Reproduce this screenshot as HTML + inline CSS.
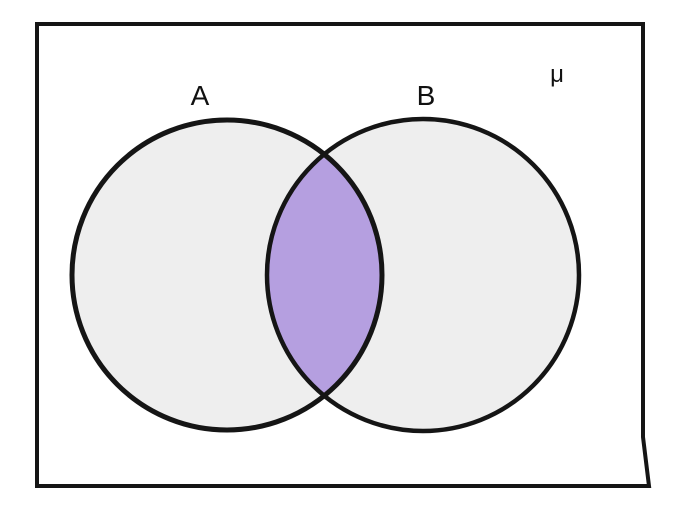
<!DOCTYPE html>
<html><head><style>
html,body{margin:0;padding:0;background:#fff;width:681px;height:520px;overflow:hidden}
</style></head><body>
<svg width="681" height="520" viewBox="0 0 681 520" xmlns="http://www.w3.org/2000/svg">
<defs>
<clipPath id="ca"><circle cx="227" cy="275" r="155"/></clipPath>
</defs>
<path d="M37 24 L643 24 L643 437 L649 486 L37 486 Z" fill="none" stroke="#151515" stroke-width="4"/>
<circle cx="227" cy="275" r="155" fill="#eeeeee"/>
<circle cx="423" cy="275" r="156" fill="#eeeeee"/>
<circle cx="423" cy="275" r="156" fill="#b59fe0" clip-path="url(#ca)"/>
<circle cx="227" cy="275" r="155" fill="none" stroke="#151515" stroke-width="5"/>
<circle cx="423" cy="275" r="156" fill="none" stroke="#151515" stroke-width="4.5"/>
<text x="200" y="105" font-family="Liberation Sans, sans-serif" font-size="28" text-anchor="middle" fill="#111">A</text>
<text x="426" y="105" font-family="Liberation Sans, sans-serif" font-size="28" text-anchor="middle" fill="#111">B</text>
<text x="557" y="82" font-family="Liberation Sans, sans-serif" font-size="24" text-anchor="middle" fill="#111">μ</text>
</svg>
</body></html>
